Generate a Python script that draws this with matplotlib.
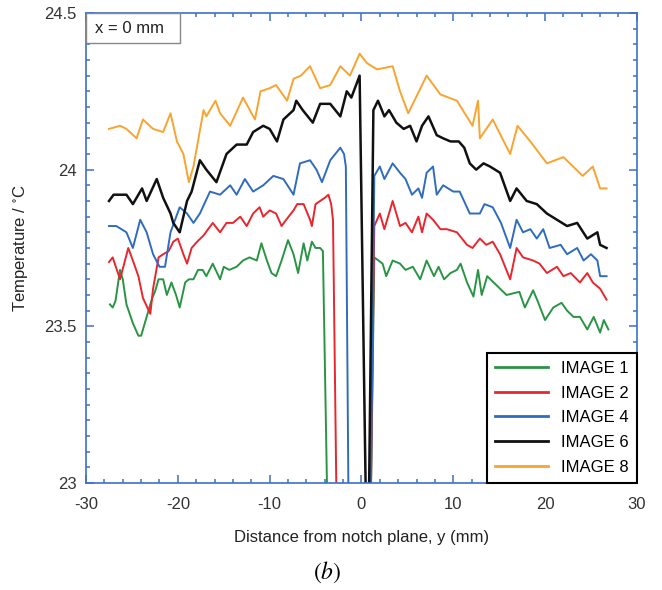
import numpy as np
import matplotlib
matplotlib.use("Agg")
import matplotlib.pyplot as plt
from matplotlib.ticker import MultipleLocator
from matplotlib.patches import Rectangle

plt.rcParams['font.family'] = ['Liberation Sans', 'DejaVu Sans']
plt.rcParams['axes.unicode_minus'] = False
plt.rcParams['mathtext.fontset'] = 'stix'

# values (y in mm, T in deg C); 22.9 = line runs off the bottom
y_img8 = [-27.5, -26.3, -25.6, -24.5, -23.8, -22.7, -21.6, -20.8, -20.1, -19.4, -18.8, -18.3,
          -17.2, -16.9, -15.9, -15.4, -14.3, -12.9, -11.6, -11.0, -10.0, -9.3, -8.1, -7.4,
          -6.6, -5.6, -4.5, -3.4, -2.3, -1.25, -0.2, 0.6, 1.7, 3.4, 4.2, 5.1, 7.1, 8.6,
          10.4, 12.1, 12.7, 12.9, 14.3, 16.2, 17.0, 18.4, 20.2, 22.0, 24.1, 25.2, 26.0, 26.7]
t_img8 = [24.13, 24.14, 24.13, 24.10, 24.16, 24.13, 24.12, 24.18, 24.09, 24.05, 23.96, 24.01,
          24.19, 24.17, 24.22, 24.18, 24.14, 24.23, 24.16, 24.25, 24.26, 24.27, 24.22, 24.29,
          24.30, 24.33, 24.26, 24.27, 24.33, 24.30, 24.37, 24.34, 24.32, 24.33, 24.25, 24.18,
          24.30, 24.24, 24.22, 24.14, 24.22, 24.10, 24.16, 24.05, 24.14, 24.09, 24.02, 24.04,
          23.98, 24.01, 23.94, 23.94]

y_img6 = [-27.5, -27.0, -25.6, -24.9, -23.9, -23.4, -22.3, -21.6, -20.8, -20.5, -19.8, -19.0,
          -18.5, -17.6, -16.9, -15.8, -14.7, -13.6, -12.5, -11.8, -10.7, -10.0, -9.2, -8.5,
          -7.4, -7.1, -6.4, -5.3, -4.5, -3.4, -2.3, -1.6, -1.1, -0.2, 0.5, 0.8,
          1.3, 1.8, 2.5, 3.0, 3.8, 4.6, 5.3, 6.0, 6.6, 7.3, 8.2, 8.9, 9.7, 10.6, 11.2, 11.8,
          12.5, 13.3, 14.0, 15.1, 16.2, 16.9, 18.0, 19.1, 20.2, 21.3, 22.4, 23.5, 24.6, 25.7,
          26.0, 26.7]
t_img6 = [23.90, 23.92, 23.92, 23.89, 23.94, 23.90, 23.97, 23.91, 23.86, 23.83, 23.80, 23.90,
          23.93, 24.03, 24.00, 23.96, 24.05, 24.08, 24.08, 24.12, 24.14, 24.13, 24.09, 24.16,
          24.19, 24.22, 24.19, 24.15, 24.21, 24.21, 24.17, 24.25, 24.23, 24.30, 22.9, 22.9,
          24.19, 24.22, 24.17, 24.19, 24.15, 24.13, 24.14, 24.09, 24.14, 24.17, 24.11, 24.10,
          24.09, 24.09, 24.07, 24.02, 24.00, 24.02, 24.01, 23.99, 23.90, 23.94, 23.90, 23.89,
          23.86, 23.84, 23.82, 23.83, 23.78, 23.80, 23.76, 23.75]

y_img4 = [-27.5, -26.7, -25.6, -24.9, -24.1, -23.4, -22.7, -22.0, -21.4, -20.8, -19.8, -19.0,
          -18.3, -17.6, -16.5, -15.4, -14.3, -13.6, -12.7, -11.8, -10.7, -9.6, -8.5, -7.4,
          -6.7, -5.6, -4.9, -4.3, -3.4, -2.3, -1.9, -1.7, -1.4, 1.0,
          1.4, 2.0, 2.5, 3.4, 4.2, 4.8, 5.5, 6.2, 6.6, 7.1, 7.8, 8.2, 8.9, 10.0, 10.7, 11.8,
          12.9, 13.4, 14.3, 15.2, 16.2, 16.9, 17.6, 18.4, 19.1, 19.8, 20.5, 21.7, 22.4, 23.5,
          24.2, 25.0, 25.7, 26.0, 26.7]
t_img4 = [23.82, 23.82, 23.80, 23.75, 23.84, 23.80, 23.73, 23.69, 23.69, 23.80, 23.88, 23.86,
          23.83, 23.86, 23.93, 23.92, 23.95, 23.92, 23.97, 23.93, 23.95, 23.98, 23.97, 23.92,
          24.02, 24.03, 24.00, 23.96, 24.03, 24.07, 24.05, 24.01, 22.9, 22.9,
          23.98, 24.01, 23.97, 24.02, 23.99, 23.97, 23.92, 23.94, 23.91, 23.99, 24.01, 23.92,
          23.95, 23.93, 23.93, 23.86, 23.86, 23.89, 23.88, 23.83, 23.75, 23.84, 23.80, 23.81,
          23.78, 23.81, 23.75, 23.76, 23.73, 23.75, 23.71, 23.73, 23.71, 23.66, 23.66]

y_img2 = [-27.5, -27.1, -26.3, -25.4, -24.9, -24.3, -23.8, -23.0, -22.7, -22.1, -21.6, -21.0,
          -20.5, -20.0, -19.4, -19.0, -18.5, -17.9, -17.2, -16.2, -15.4, -14.7, -14.0, -13.2,
          -12.5, -11.8, -11.1, -10.7, -10.0, -9.3, -8.7, -8.2, -7.4, -7.0, -6.3, -5.6, -5.4,
          -5.0, -4.5, -4.0, -3.6, -3.3, -3.1, -2.7, 1.0,
          1.4, 2.0, 2.5, 3.4, 4.2, 4.8, 5.5, 6.2, 6.6, 7.1, 7.8, 8.6, 9.3, 10.4, 11.5, 12.1,
          12.9, 13.6, 14.3, 15.1, 16.2, 16.9, 17.6, 18.7, 19.4, 20.2, 21.3, 22.0, 22.8, 23.8,
          24.6, 25.2, 26.0, 26.7]
t_img2 = [23.705, 23.72, 23.65, 23.75, 23.71, 23.66, 23.59, 23.54, 23.62, 23.72, 23.73, 23.74,
          23.77, 23.78, 23.73, 23.70, 23.75, 23.77, 23.79, 23.83, 23.80, 23.83, 23.83, 23.85,
          23.82, 23.86, 23.88, 23.85, 23.87, 23.86, 23.82, 23.84, 23.87, 23.89, 23.89, 23.84,
          23.82, 23.89, 23.90, 23.91, 23.92, 23.89, 23.84, 22.9, 22.9,
          23.82, 23.86, 23.81, 23.90, 23.82, 23.83, 23.80, 23.85, 23.80, 23.86, 23.84, 23.81,
          23.81, 23.80, 23.76, 23.75, 23.78, 23.76, 23.77, 23.73, 23.65, 23.75, 23.72, 23.71,
          23.70, 23.67, 23.69, 23.66, 23.67, 23.64, 23.67, 23.64, 23.62, 23.585]

y_img1 = [-27.4, -27.1, -26.8, -26.3, -26.0, -25.6, -24.9, -24.3, -24.0, -23.4, -22.8, -22.5,
          -22.1, -21.6, -21.2, -20.7, -20.2, -19.8, -19.2, -18.8, -18.3, -17.8, -17.3, -16.9,
          -16.2, -15.4, -15.0, -14.4, -13.6, -12.9, -12.2, -11.4, -10.9, -10.3, -9.8, -9.3,
          -8.7, -8.0, -7.4, -6.9, -6.3, -5.9, -5.4, -5.0, -4.5, -4.2, -3.7, 1.0,
          1.4, 2.3, 2.7, 3.4, 4.2, 4.8, 5.6, 6.4, 7.1, 7.9, 8.4, 9.0, 9.7, 10.4, 10.8, 11.5,
          12.2, 12.7, 13.1, 13.7, 14.4, 15.1, 15.8, 16.5, 17.2, 17.8, 18.7, 19.2, 20.0, 20.9,
          21.8, 22.4, 23.1, 23.8, 24.6, 25.3, 26.0, 26.4, 26.9]
t_img1 = [23.57, 23.56, 23.58, 23.68, 23.65, 23.57, 23.51, 23.47, 23.47, 23.53, 23.59, 23.61,
          23.65, 23.65, 23.60, 23.64, 23.60, 23.56, 23.64, 23.65, 23.65, 23.68, 23.68, 23.66,
          23.70, 23.65, 23.69, 23.68, 23.69, 23.71, 23.72, 23.71, 23.765, 23.71, 23.67, 23.66,
          23.71, 23.775, 23.73, 23.67, 23.765, 23.71, 23.77, 23.75, 23.75, 23.74, 22.9, 22.9,
          23.72, 23.70, 23.66, 23.71, 23.70, 23.68, 23.69, 23.65, 23.71, 23.66, 23.69, 23.65,
          23.67, 23.68, 23.70, 23.64, 23.595, 23.68, 23.60, 23.66, 23.64, 23.62, 23.60, 23.605,
          23.61, 23.56, 23.615, 23.58, 23.52, 23.56, 23.575, 23.55, 23.53, 23.53, 23.49, 23.53,
          23.48, 23.52, 23.49]

labels = ['IMAGE 1', 'IMAGE 2', 'IMAGE 4', 'IMAGE 6', 'IMAGE 8']
colors = ['#2a9445', '#e8262e', '#2f6cc0', '#111111', '#f7a431']

blue = '#3d6fc8'

fig = plt.figure(figsize=(6.62, 5.90), dpi=100)
ax = fig.add_axes([0.130, 0.1814, 0.832, 0.7966])

series = [(y_img1, t_img1), (y_img2, t_img2), (y_img4, t_img4), (y_img6, t_img6), (y_img8, t_img8)]
for (xs, ts), lab, c in zip(series, labels, colors):
    lw = 1.8 if lab == 'IMAGE 6' else 1.4
    ax.plot(xs, ts, color=c, lw=lw, label=lab)

ax.set_xlim(-30, 30)
ax.set_ylim(23, 24.5)
ax.xaxis.set_major_locator(MultipleLocator(10))
ax.xaxis.set_minor_locator(MultipleLocator(2))
ax.yaxis.set_minor_locator(MultipleLocator(0.05))
ax.set_yticks([23, 23.5, 24, 24.5])
ax.set_yticklabels(['23', '23.5', '24', '24.5'])
ax.tick_params(which='both', direction='in', top=True, right=True, color=blue,
               labelsize=12, labelcolor='#333333', width=1.1)
ax.tick_params(which='major', length=6)
ax.tick_params(which='minor', length=3)
ax.tick_params(axis='x', which='major', pad=10)
ax.tick_params(axis='y', which='major', pad=7)
for s in ax.spines.values():
    s.set_color(blue)
    s.set_linewidth(1.2)

ax.set_xlabel('Distance from notch plane, y (mm)', fontsize=12, color='#222222', labelpad=13)
ax.set_ylabel('Temperature / $^{\\circ}$C', fontsize=12, color='#222222', labelpad=10)

# label box in the upper left corner
ax.add_patch(Rectangle((0, 1 - 0.0638), 0.1706, 0.0638, transform=ax.transAxes,
                       fc='white', ec='#888888', lw=1.0, zorder=5, clip_on=False))
ax.text(0.016, 0.968, 'x = 0 mm', transform=ax.transAxes, ha='left', va='center', fontsize=12,
        color='#222222', zorder=6)

leg = ax.legend(loc='lower right', fontsize=12, handlelength=3.2, labelspacing=0.58,
                borderaxespad=0.0, fancybox=False, framealpha=1, edgecolor='black',
                borderpad=0.5, handletextpad=0.75)
leg.get_frame().set_linewidth(1.5)
for h in leg.get_lines():
    h.set_linewidth(2.0)

fig.text(0.494, 0.030, '$(b)$', fontsize=17, ha='center', va='center')

fig.savefig('out.png', dpi=100)
